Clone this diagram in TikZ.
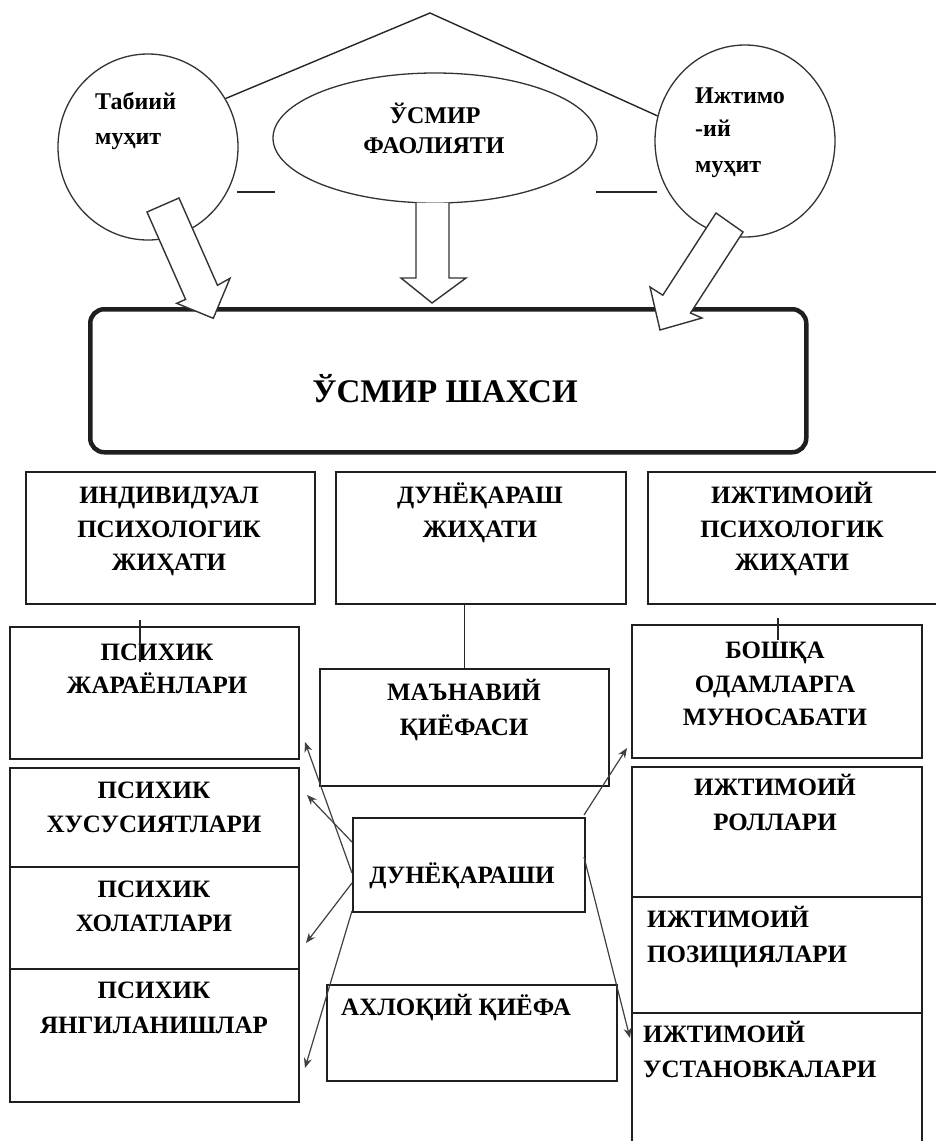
\documentclass[tikz,border=0pt]{standalone}
\usepackage{fontspec}
\setmainfont{Liberation Serif}
\usetikzlibrary{arrows.meta,shapes.geometric}
\begin{document}
\begin{tikzpicture}[x=1pt,y=-1pt,
  ink/.style={draw=black!85, line width=1.4pt},
  box/.style={draw=black!88, line width=1.8pt, rectangle, inner sep=0pt, anchor=north west},
  oval/.style={draw=black!80, line width=1.3pt, ellipse, inner sep=0pt},
  fat/.style={draw=black!80, line width=1.4pt, fill=white, line join=miter},
  conn/.style={draw=black!75, line width=1.2pt, -{Stealth[length=10pt,width=8pt]}},
  lbl/.style={font=\bfseries\fontsize{25}{30}\selectfont, inner sep=0pt, anchor=base, text=black},
  lbll/.style={lbl, anchor=base west},
  small/.style={font=\bfseries\fontsize{24}{28}\selectfont},
  big/.style={font=\bfseries\fontsize{33}{38}\selectfont}]
\useasboundingbox (0,0) rectangle (935,1141);
\fill[white] (0,0) rectangle (935,1141);

% ---- top ellipses and roof
\node[oval, minimum width=180pt, minimum height=186pt] (env1) at (148,147) {};
\node[oval, minimum width=324pt, minimum height=130pt] (act) at (435,138) {};
\node[oval, minimum width=180pt, minimum height=192pt] (env2) at (745,141) {};
\coordinate (apex) at (430,13);
\draw[ink] (env1.32.5) -- (apex) -- (env2.164.6);
\coordinate (dl1) at (237,192); \coordinate (dl2) at (275,192);
\coordinate (dr1) at (596,192); \coordinate (dr2) at (657,192);
\draw[ink] (dl1) -- (dl2);
\draw[ink] (dr1) -- (dr2);

\node[lbll, small] (e1a) at (95,109) {Табиий};
\node[lbll, small] (e1b) at (95,144) {муҳит};
\node[lbl, small] (aca) at (435,123) {ЎСМИР};
\node[lbl, small] (acb) at (434,153) {ФАОЛИЯТИ};
\node[lbll, small] (e2a) at (695,103) {Ижтимо};
\node[lbll, small] (e2b) at (695,136) {-ий};
\node[lbll, small] (e2c) at (695,172) {муҳит};

% ---- main box
\node[box, line width=4.5pt, rounded corners=14pt, minimum width=716pt, minimum height=143pt] (main) at (88,307) {};
\node[lbl, big] (maint) at (445,402) {ЎСМИР ШАХСИ};

% ---- fat arrows
\draw[fat] (147,212) -- (185.6,299.4) -- (176.7,303.3) -- (213.3,318.3) -- (230,278.3) -- (217.5,285.3) -- (179,198) -- cycle;
\draw[fat] (716,213) -- (662.8,295.2) -- (650,287) -- (660,330) -- (702,318) -- (690.5,313) -- (743,232) -- cycle;
\fill[white] (417,203) rectangle (448,278);
\draw[fat] (416,202.6) -- (416,278) -- (401,278) -- (432,303) -- (466,278) -- (449,278) -- (449,202.6);

% ---- row 1
\node[box, minimum width=289pt, minimum height=132pt] (b1) at (25,471) {};
\node[box, minimum width=290pt, minimum height=132pt] (b2) at (335,471) {};
\node[box, minimum width=308pt, minimum height=132pt] (b3) at (647,471) {};
\node[lbl] (b1a) at (169,503) {ИНДИВИДУАЛ};
\node[lbl] (b1b) at (169,537) {ПСИХОЛОГИК};
\node[lbl] (b1c) at (169,570) {ЖИҲАТИ};
\node[lbl] (b2a) at (480,503) {ДУНЁҚАРАШ};
\node[lbl] (b2b) at (480,537) {ЖИҲАТИ};
\node[lbl] (b3a) at (792,503) {ИЖТИМОИЙ};
\node[lbl] (b3b) at (792,537) {ПСИХОЛОГИК};
\node[lbl] (b3c) at (792,570) {ЖИҲАТИ};

% ---- left column
\node[box, minimum width=289pt, minimum height=132pt] (p1) at (9,626) {};
\node[box, minimum width=289pt, minimum height=99pt] (p2) at (9,767) {};
\node[box, minimum width=289pt, minimum height=102pt] (p3) at (9,866) {};
\node[box, minimum width=289pt, minimum height=133pt] (p4) at (9,968) {};
\node[lbl] (p1a) at (157,660) {ПСИХИК};
\node[lbl] (p1b) at (157,693) {ЖАРАЁНЛАРИ};
\node[lbl] (p2a) at (154,798) {ПСИХИК};
\node[lbl] (p2b) at (154,832) {ХУСУСИЯТЛАРИ};
\node[lbl] (p3a) at (154,897) {ПСИХИК};
\node[lbl] (p3b) at (154,931) {ХОЛАТЛАРИ};
\node[lbl] (p4a) at (154,998) {ПСИХИК};
\node[lbl] (p4b) at (154,1033) {ЯНГИЛАНИШЛАР};

% ---- middle column
\node[box, minimum width=289pt, minimum height=117pt] (m) at (319,668) {};
\node[box, minimum width=232pt, minimum height=94pt] (d) at (352,817) {};
\node[box, minimum width=290pt, minimum height=96pt] (a) at (326,984) {};
\node[lbl] (ma) at (464,700) {МАЪНАВИЙ};
\node[lbl] (mb) at (464,735) {ҚИЁФАСИ};
\node[lbl] (dt) at (462,883) {ДУНЁҚАРАШИ};
\node[lbll] (at) at (341,1015) {АХЛОҚИЙ ҚИЁФА};

% ---- right column
\node[box, minimum width=290pt, minimum height=133pt] (r1) at (631,624) {};
\node[box, minimum width=290pt, minimum height=130pt] (r2) at (631,766) {};
\node[box, minimum width=290pt, minimum height=116pt] (r3) at (631,896) {};
\node[box, minimum width=290pt, minimum height=160pt] (r4) at (631,1012) {};
\node[lbl] (r1a) at (775,658) {БОШҚА};
\node[lbl] (r1b) at (775,692) {ОДАМЛАРГА};
\node[lbl] (r1c) at (775,725) {МУНОСАБАТИ};
\node[lbl] (r2a) at (775,795) {ИЖТИМОИЙ};
\node[lbl] (r2b) at (775,830) {РОЛЛАРИ};
\node[lbll] (r3a) at (647,927) {ИЖТИМОИЙ};
\node[lbll] (r3b) at (647,962) {ПОЗИЦИЯЛАРИ};
\node[lbll] (r4a) at (643,1042) {ИЖТИМОИЙ};
\node[lbll] (r4b) at (643,1077) {УСТАНОВКАЛАРИ};

% ---- thin connectors
\coordinate (tl1) at (140,620); \coordinate (tl2) at (140,662);
\coordinate (tr1) at (778,618); \coordinate (tr2) at (778,640);
\draw[ink, line width=1.2pt] (tl1) -- (tl2);
\draw[ink, line width=1.2pt] (tr1) -- (tr2);
\draw[ink, line width=1.2pt] (m.north |- b2.south) -- (m.north);

\coordinate (s1) at (352,873); \coordinate (e1) at (305,742);
\coordinate (s2) at (352,842); \coordinate (e2) at (307,795);
\coordinate (s3) at (352,883); \coordinate (e3) at (306,943);
\coordinate (s4) at (352,911); \coordinate (e4) at (305,1068);
\coordinate (s5) at (584,815); \coordinate (e5) at (627,748);
\coordinate (s6) at (584,857); \coordinate (e6) at (630,1038);
\draw[conn] (s1) -- (e1);
\draw[conn] (s2) -- (e2);
\draw[conn] (s3) -- (e3);
\draw[conn] (s4) -- (e4);
\draw[conn] (s5) -- (e5);
\draw[conn] (s6) -- (e6);
\end{tikzpicture}
\end{document}
